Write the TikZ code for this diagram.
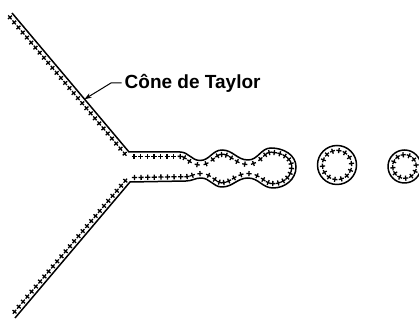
\documentclass[tikz,border=0pt]{standalone}
\usepackage{fontspec}
\setmainfont{Liberation Sans}
\usetikzlibrary{decorations.markings,arrows.meta,calc}

\tikzset{
  outline/.style={line width=1.5pt, line join=round},
  crossmark/.style={line width=1.3pt},
  % small charges drawn at a fixed distance from the surface, every #1
  charges/.style 2 args={postaction={decorate, decoration={markings,
    mark=between positions 2pt and 1 step #1 with {
      \draw[crossmark, yshift=#2] (-2.6pt,0) -- (2.6pt,0) (0,-2.6pt) -- (0,2.6pt);}}}},
  leader/.style={line width=1pt, -{Stealth[length=7pt,width=5pt]}},
  label/.style={font=\fontsize{19}{21}\selectfont\bfseries, anchor=west, inner sep=0pt}
}

\begin{document}
\begin{tikzpicture}[x=1pt,y=1pt]
\useasboundingbox (0,0) rectangle (419,320);

% cone and jet outline
\coordinate (ct) at (12,307);
\coordinate (cu) at (129,168);
\coordinate (cl) at (130,138);
\coordinate (cb) at (15,2);
\draw[outline, charges={6.6pt}{-4.4pt}]
  (ct) -- (cu) -- (180,168)
  to[out=0,in=180] (200,159.5)
  to[out=0,in=180] (222,170)
  to[out=0,in=180] (248,160)
  to[out=0,in=180] (271,172)
  to[out=0,in=90] (296,153)
  to[out=-90,in=0] (273,132)
  to[out=180,in=0] (248,142)
  to[out=180,in=0] (222,133)
  to[out=180,in=0] (201,142)
  to[out=180,in=0] (186,139)
  -- (cl) -- (cb);

% detached droplets
\node[coordinate] (d1) at (337,155) {};
\node[coordinate] (d2) at (404.5,153.5) {};
\draw[outline, charges={8.7pt}{5pt}] (d1) circle[radius=19.5];
\draw[outline, charges={8.6pt}{4.8pt}] (d2) circle[radius=16.5];

% label with leader
\node[label] (lab) at (124.5,237) {Cône de Taylor};
\coordinate (tip) at ($(ct)!0.62!(cu)$);
\coordinate (bend) at (111,237);
\draw[leader] (lab.west) ++(-3,0) -- (bend) -- (tip);
\end{tikzpicture}
\end{document}
